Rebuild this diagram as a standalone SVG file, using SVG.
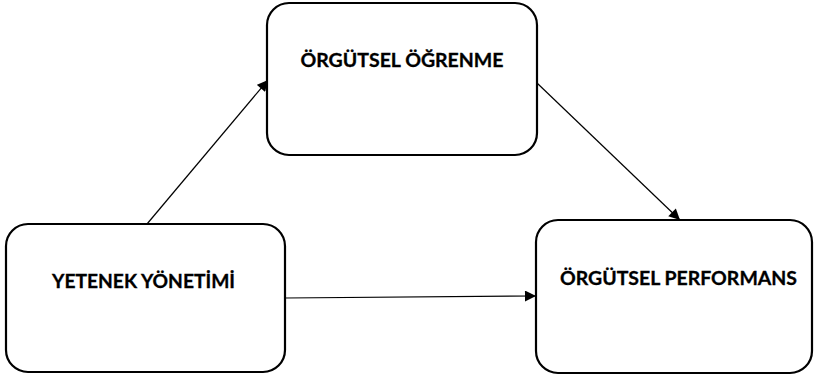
<svg xmlns="http://www.w3.org/2000/svg" width="816" height="380" viewBox="0 0 816 380">
<style>
.box{fill:#fff;stroke:#000;stroke-width:2.2}
.lbl{font-family:Lato,"Open Sans","Liberation Sans",sans-serif;font-weight:bold;font-size:18.5px;fill:#000;stroke:#000;stroke-width:0.3;text-anchor:middle}
.con{stroke:#000;stroke-width:1.2;fill:none;marker-end:url(#ah)}
</style>
<defs>
<marker id="ah" viewBox="0 0 10 10" refX="10" refY="5" markerWidth="12" markerHeight="11" markerUnits="userSpaceOnUse" orient="auto">
<path d="M0,0 L10,5 L0,10 z" fill="#000"/>
</marker>
</defs>
<rect width="816" height="380" fill="#fff"/>
<g id="connectors">
<line class="con" x1="147" y1="224" x2="268" y2="80"/>
<line class="con" x1="537" y1="83" x2="680" y2="220"/>
<line class="con" x1="285" y1="298" x2="536" y2="296"/>
</g>
<g id="n1">
<rect class="box" x="267" y="3" width="270" height="152" rx="22"/>
<text class="lbl" x="402" y="67" textLength="203" lengthAdjust="spacingAndGlyphs">ÖRGÜTSEL ÖĞRENME</text>
</g>
<g id="n2">
<rect class="box" x="6" y="224" width="279" height="148" rx="22"/>
<text class="lbl" x="143.5" y="288" textLength="183" lengthAdjust="spacingAndGlyphs">YETENEK YÖNETİMİ</text>
</g>
<g id="n3">
<rect class="box" x="536" y="220" width="276" height="153" rx="22"/>
<text class="lbl" x="678.5" y="285" textLength="237" lengthAdjust="spacingAndGlyphs">ÖRGÜTSEL PERFORMANS</text>
</g>
</svg>
